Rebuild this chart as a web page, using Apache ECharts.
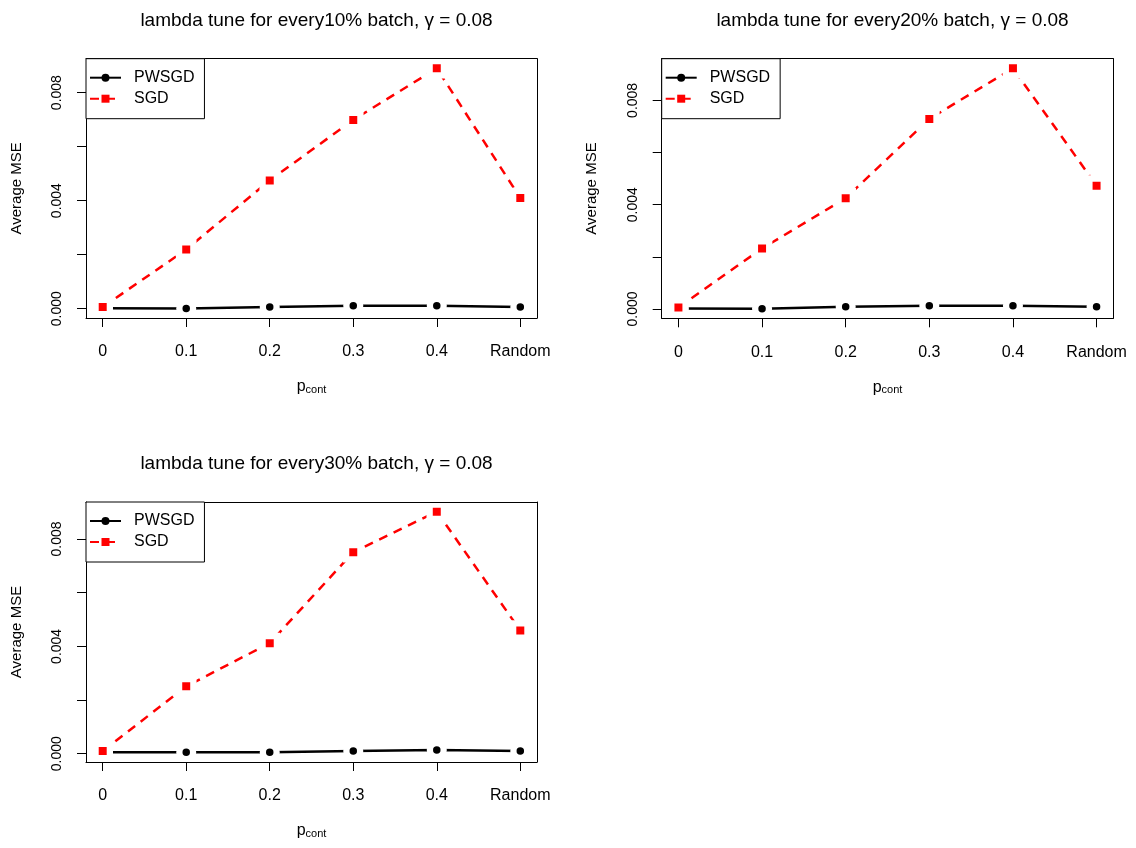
<!DOCTYPE html>
<html><head><meta charset="utf-8">
<script src="https://cdn.jsdelivr.net/npm/echarts@6/dist/echarts.min.js"></script>
<style>html,body{margin:0;padding:0;background:#fff}#c{width:1136px;height:848px}</style>
</head><body><div id="c"></div>
<script>
// ---- data ----
const categories = ['0', '0.1', '0.2', '0.3', '0.4', 'Random'];
const titles = [
  'lambda tune for every10% batch, \u03b3 = 0.08',
  'lambda tune for every20% batch, \u03b3 = 0.08',
  'lambda tune for every30% batch, \u03b3 = 0.08'
];
const pwsgd10 = [0.00002, 0.00001, 0.00006, 0.00011, 0.00011, 0.00006];
const sgd10   = [0.00006, 0.00219, 0.00475, 0.00699, 0.00890, 0.00410];
const pwsgd20 = [0.00002, 0.00001, 0.00008, 0.00012, 0.00012, 0.00008];
const sgd20   = [0.00006, 0.00232, 0.00425, 0.00729, 0.00923, 0.00473];
const pwsgd30 = [0.00005, 0.00005, 0.00005, 0.00010, 0.00014, 0.00010];
const sgd30   = [0.00010, 0.00251, 0.00412, 0.00751, 0.00902, 0.00459];
const yTicks = [0, 0.002, 0.004, 0.006, 0.008];
const yTickLabels = [0, 0.004, 0.008];
const seriesNames = ['PWSGD', 'SGD'];

const panelData = [[pwsgd10, sgd10], [pwsgd20, sgd20], [pwsgd30, sgd30]];
const panels = [
  {left: 86, top: 58.7, width: 451, height: 259.3},
  {left: 661.7, top: 58.7, width: 451.6, height: 259.6},
  {left: 86, top: 502, width: 451, height: 260}
];
const titleTops = [6, 6, 449];

const FONT = '"Liberation Sans", Arial, sans-serif';
const idx = categories.map((c, i) => i);

const option = {
  animation: false,
  textStyle: {fontFamily: FONT},
  title: [], grid: [], xAxis: [], yAxis: [], series: [], legend: []
};

const styles = [
  {color: '#000000', symbol: 'circle', size: 7.5, lineType: 'solid'},
  {color: '#ff0000', symbol: 'rect', size: 8, lineType: [9, 7]}
];
const HALO = 6.3;

panels.forEach((p, i) => {
  const [pw, sg] = panelData[i];
  const all = pw.concat(sg);
  const lo = Math.min(...all), hi = Math.max(...all);
  const ext = (hi - lo) * 0.04;
  const ymin = lo - ext, ymax = hi + ext;

  option.title.push({
    text: titles[i], left: p.left + p.width / 2, top: titleTops[i], textAlign: 'center',
    textStyle: {fontFamily: FONT, fontSize: 19, fontWeight: 'normal', color: '#000'}
  });
  option.grid.push({left: p.left, top: p.top, width: p.width, height: p.height, show: false});

  const lineBlack = {show: true, onZero: false, lineStyle: {color: '#000', width: 1}};
  option.xAxis.push({
    gridIndex: i, type: 'value', min: -0.2, max: 5.2, z: 10,
    axisLine: lineBlack,
    axisTick: {show: true, length: 9, customValues: idx, lineStyle: {color: '#000'}},
    axisLabel: {customValues: idx, formatter: v => categories[Math.round(v)], fontSize: 16, color: '#000', margin: 26, fontFamily: FONT},
    splitLine: {show: false},
    name: '{p|p}{s|cont}', nameLocation: 'middle', nameGap: 61,
    nameTextStyle: {rich: {
      p: {fontSize: 16, color: '#000', fontFamily: FONT, verticalAlign: 'bottom', lineHeight: 16},
      s: {fontSize: 11, color: '#000', fontFamily: FONT, verticalAlign: 'bottom', lineHeight: 11}
    }}
  });
  option.xAxis.push({
    gridIndex: i, type: 'value', min: -0.2, max: 5.2, position: 'top', z: 10,
    axisLine: lineBlack, axisTick: {show: false}, axisLabel: {show: false}, splitLine: {show: false}
  });
  option.yAxis.push({
    gridIndex: i, type: 'value', min: ymin, max: ymax, z: 10,
    axisLine: lineBlack,
    axisTick: {show: true, length: 9, customValues: yTicks, lineStyle: {color: '#000'}},
    axisLabel: {customValues: yTickLabels, formatter: v => v.toFixed(3), rotate: 90, fontSize: 14, color: '#000', margin: 22, fontFamily: FONT},
    splitLine: {show: false},
    name: 'Average MSE', nameLocation: 'middle', nameRotate: 90, nameGap: 62,
    nameTextStyle: {fontSize: 15, color: '#000', fontFamily: FONT}
  });
  option.yAxis.push({
    gridIndex: i, type: 'value', min: ymin, max: ymax, position: 'right', z: 10,
    axisLine: lineBlack, axisTick: {show: false}, axisLabel: {show: false}, splitLine: {show: false}
  });

  [pw, sg].forEach((vals, s) => {
    const st = styles[s];
    const pts = vals.map((v, k) => [k, v]);
    // connecting line
    option.series.push({
      name: seriesNames[s], type: 'line', xAxisIndex: 2 * i, yAxisIndex: 2 * i,
      data: pts, symbol: st.symbol, symbolSize: st.size,
      lineStyle: {color: st.color, width: 2.5, type: st.lineType},
      itemStyle: {color: st.color},
      emphasis: {disabled: true}, z: 2 + s, silent: true
    });
    // points with a white halo that leaves a gap in the line around each point (R type = "b")
    option.series.push({
      name: seriesNames[s] + ' points', type: 'scatter', xAxisIndex: 2 * i, yAxisIndex: 2 * i,
      data: pts, symbol: st.symbol, symbolSize: st.size + HALO,
      itemStyle: {color: st.color, borderColor: '#ffffff', borderWidth: HALO, opacity: 1},
      emphasis: {disabled: true}, z: 5 + s, silent: true
    });
  });

  option.legend.push({
    data: seriesNames, orient: 'vertical', left: p.left, top: p.top,
    padding: [11, 10, 12, 3], itemGap: 5, itemWidth: 31, itemHeight: 10,
    backgroundColor: '#fff', borderColor: '#000', borderWidth: 1, borderRadius: 0,
    itemStyle: {borderWidth: 0},
    textStyle: {fontSize: 16, color: '#000', fontFamily: FONT, padding: [0, 0, 0, 8], lineHeight: 16},
    selectedMode: false, z: 11
  });
});

const chart = echarts.init(document.getElementById('c'), null, {renderer: 'canvas'});
chart.setOption(option);
</script>
</body></html>
